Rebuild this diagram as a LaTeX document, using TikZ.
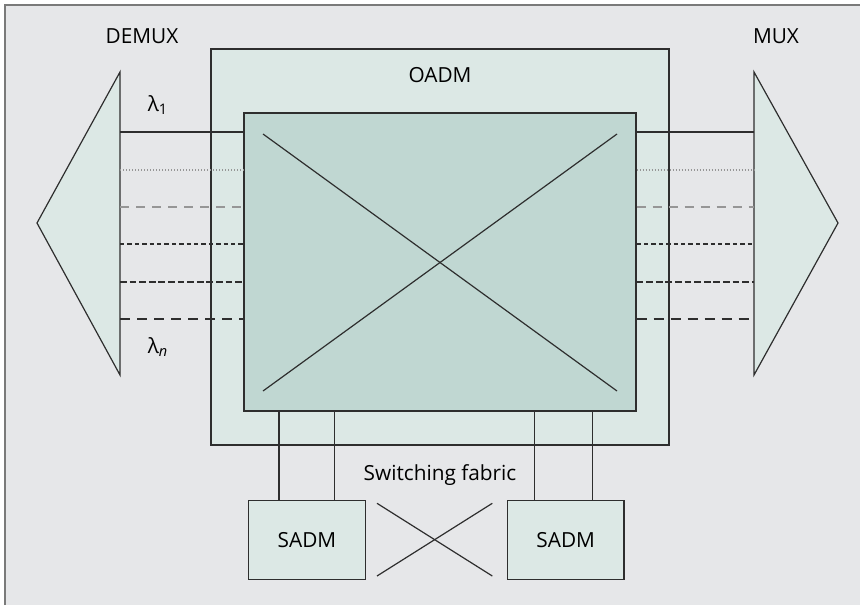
\documentclass[tikz,border=0pt]{standalone}
\usepackage{fontspec}
\setmainfont{Open Sans}
\usetikzlibrary{positioning}
\definecolor{bggray}{HTML}{E6E7E9}
\definecolor{palegreen}{HTML}{DCE8E5}
\definecolor{coregreen}{HTML}{C0D7D2}
\definecolor{framegray}{HTML}{7A7A7A}
\definecolor{linedark}{HTML}{2E2E2E}
\definecolor{linegray}{HTML}{969696}
\tikzset{box/.style={draw=linedark,line width=.6pt,fill=palegreen,inner sep=0pt,font=\fontsize{10.4}{12}\selectfont},
  wire/.style={draw=linedark,line width=.6pt},
  lbl/.style={inner sep=0pt,font=\fontsize{10.4}{12}\selectfont},
  chsolid/.style={wire},
  chdot/.style={wire,draw=linegray,dash pattern=on .6pt off .9pt},
  chgray/.style={wire,draw=linegray,dash pattern=on 4.5pt off 3.5pt},
  chdense/.style={wire,dash pattern=on 2.2pt off 1.5pt},
  chmid/.style={wire,dash pattern=on 3.4pt off 1.4pt},
  chlong/.style={wire,dash pattern=on 5pt off 3.5pt}}

\begin{document}
\begin{tikzpicture}[x=.5pt,y=-.5pt]
  \path[use as bounding box] (0,0) rectangle (860,605);
  \fill[bggray] (5,5) rectangle (860,605);
  \draw[framegray,line width=1pt] (5,605)--(5,5)--(860,5);
  % add-drop multiplexer
  \node[box,minimum width=229pt,minimum height=198pt] (oadm) at (440,247) {};
  \node[box,fill=coregreen,minimum width=196pt,minimum height=149pt] (core) at (440,262) {};
  \node[lbl] (oadmlbl) at (440,75) {OADM};
  % demux and mux
  \coordinate (dmxtop) at (120,72); \coordinate (dmxbot) at (120,375); \coordinate (dmxtip) at (37,223);
  \coordinate (mxtop) at (754,72); \coordinate (mxbot) at (754,375); \coordinate (mxtip) at (838,223);
  \draw[wire,fill=palegreen] (dmxtop)--(dmxtip)--(dmxbot)--cycle;
  \draw[wire,fill=palegreen] (mxtop)--(mxtip)--(mxbot)--cycle;
  \node[lbl] (demuxlbl) at (142,36) {DEMUX};
  \node[lbl] (muxlbl) at (776,36) {MUX};
  % wavelength channels
  \foreach \yy/\sty in {132/chsolid,170/chdot,207/chgray,244/chdense,282/chmid,319/chlong}{
    \draw[\sty] (dmxtop |- 0,\yy) -- (core.west |- 0,\yy);
    \draw[\sty] (core.east |- 0,\yy) -- (mxtop |- 0,\yy);
  }
  \node[lbl] (lamone) at (158,105) {λ\textsubscript{1}};
  \node[lbl] (lamn) at (158,347) {λ\textsubscript{\itshape n}};
  % optical cross-connect
  \coordinate (xa) at (263,134); \coordinate (xb) at (617,391);
  \draw[wire] (xa) -- (xb);
  \draw[wire] (xa |- xb) -- (xb |- xa);
  % electrical add-drop
  \node[box,minimum width=58.3pt,minimum height=39.6pt] (sadmL) at (307,539.7) {SADM};
  \node[box,minimum width=58.3pt,minimum height=39.6pt] (sadmR) at (565.7,539.7) {SADM};
  \foreach \xx in {279,334.7}{\draw[wire] (core.south -| \xx,0) -- (sadmL.north -| \xx,0);}
  \foreach \xx in {534.7,592.7}{\draw[wire] (core.south -| \xx,0) -- (sadmR.north -| \xx,0);}
  \node[lbl] (fablbl) at (440,475) {Switching fabric};
  \coordinate (sa) at (377,503.3); \coordinate (sb) at (492.3,576);
  \draw[wire] (sa) -- (sb);
  \draw[wire] (sa |- sb) -- (sb |- sa);
\end{tikzpicture}
\end{document}
